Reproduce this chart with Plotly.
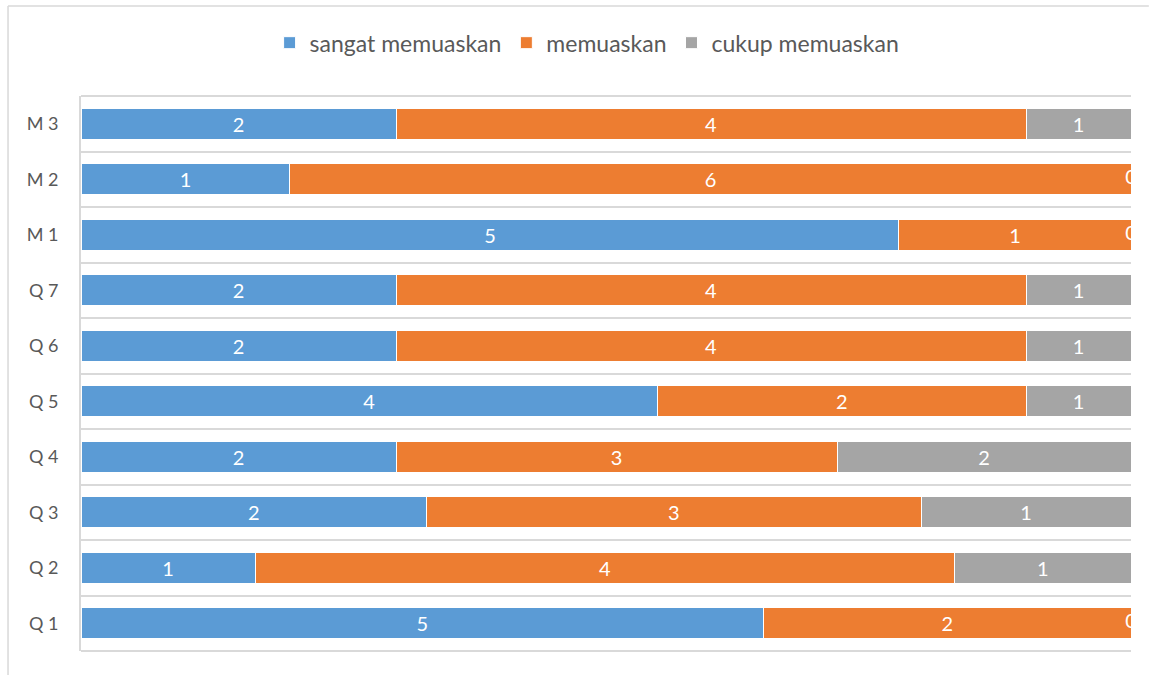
import plotly.graph_objects as go

categories = ["Q 1", "Q 2", "Q 3", "Q 4", "Q 5", "Q 6", "Q 7", "M 1", "M 2", "M 3"]
series_names = ["sangat memuaskan", "memuaskan", "cukup memuaskan"]

# bar lengths (share of the row, %)
sangat_pct = [65.0, 16.6, 32.9, 30.0, 54.9, 30.0, 30.0, 77.9, 19.9, 30.0]
memuaskan_pct = [35.0, 66.6, 47.1, 42.0, 35.1, 60.0, 60.0, 22.1, 80.1, 60.0]
cukup_pct = [0.0, 16.8, 20.0, 28.0, 10.0, 10.0, 10.0, 0.0, 0.0, 10.0]

# data labels shown on the bars
sangat_lbl = [5, 1, 2, 2, 4, 2, 2, 5, 1, 2]
memuaskan_lbl = [2, 4, 3, 3, 2, 4, 4, 1, 6, 4]
cukup_lbl = [0, 1, 1, 2, 1, 1, 1, 0, 0, 1]

colors = ["#5B9BD5", "#ED7D31", "#A5A5A5"]
FONT = "Lato"
LBL_SIZE = 20

fig = go.Figure()
series = [(sangat_pct, sangat_lbl), (memuaskan_pct, memuaskan_lbl), (cukup_pct, cukup_lbl)]
for (vals, lbls), name, col in zip(series, series_names, colors):
    fig.add_trace(go.Bar(
        y=categories, x=vals, name=name, orientation="h",
        marker=dict(color=col, line=dict(color="white", width=1)),
        text=[str(l) if v > 0 else "" for v, l in zip(vals, lbls)],
        textposition="inside", insidetextanchor="middle",
        textfont=dict(color="white", size=LBL_SIZE, family=FONT),
        hoverinfo="skip",
    ))

# zero-valued labels sit at the end of the stack
zero_x, zero_y, zero_t = [], [], []
for i, cat in enumerate(categories):
    cum = 0.0
    for vals, lbls in series:
        cum += vals[i]
        if vals[i] == 0:
            zero_x.append(cum)
            zero_y.append(cat)
            zero_t.append(str(lbls[i]))

fig.add_trace(go.Scatter(
    x=zero_x, y=zero_y, text=zero_t, mode="text", showlegend=False,
    textfont=dict(color="white", size=LBL_SIZE, family=FONT), cliponaxis=True,
    hoverinfo="skip",
))

fig.update_layout(
    width=1158, height=675,
    barmode="stack", bargap=0.44,
    plot_bgcolor="white", paper_bgcolor="white",
    margin=dict(l=81, r=27, t=96, b=24),
    font=dict(family=FONT, color="#595959"),
    legend=dict(orientation="h", x=0.482, xanchor="center", y=1.096, yanchor="middle",
                font=dict(size=23, color="#595959", family=FONT), traceorder="normal",
                itemclick=False),
    xaxis=dict(range=[0, 100], showgrid=False, showticklabels=False, zeroline=False,
               showline=False, fixedrange=True),
    yaxis=dict(categoryorder="array", categoryarray=categories, tickson="boundaries",
               showgrid=True, gridcolor="#D9D9D9", gridwidth=2,
               showline=True, linecolor="#D9D9D9", linewidth=2,
               ticks="", ticklen=0, tickfont=dict(size=18, color="#595959", family=FONT),
               ticklabelstandoff=17, fixedrange=True),
    shapes=[
        dict(type="line", xref="paper", yref="paper", x0=0, x1=1, y0=1, y1=1,
             line=dict(color="#D9D9D9", width=2)),
        dict(type="line", xref="paper", yref="paper", x0=0, x1=1, y0=0, y1=0,
             line=dict(color="#D9D9D9", width=2)),
        dict(type="line", xref="paper", yref="paper", x0=-0.0695, x1=1.017, y0=1.162, y1=1.162,
             line=dict(color="#D9D9D9", width=1.5)),
        dict(type="line", xref="paper", yref="paper", x0=-0.0695, x1=-0.0695, y0=1.162, y1=-0.05,
             line=dict(color="#D9D9D9", width=1.5)),
    ],
)

fig.write_html("out.html", config={"displayModeBar": False},
               post_script="document.body.style.margin='0';")
